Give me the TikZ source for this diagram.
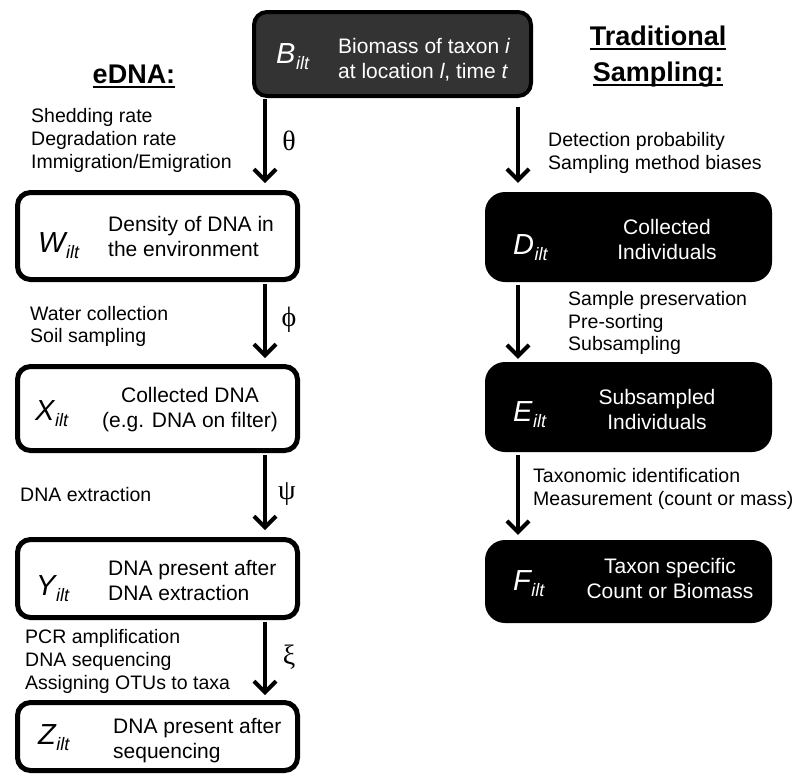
\documentclass[tikz,border=0pt]{standalone}
\usepackage{fontspec}
\setmainfont{Liberation Sans}
\newfontfamily\grkfont{Liberation Serif}
\usetikzlibrary{arrows.meta,calc}
\definecolor{bgray}{HTML}{333333}
\newcommand\vlab[2]{{\fontsize{29}{29}\selectfont\itshape #1}\kern0.5pt\raisebox{-6pt}{\fontsize{18}{18}\selectfont\itshape #2}}
\begin{document}
\begin{tikzpicture}[x=1pt,y=-1pt,
 ebox/.style={draw=black, line width=5pt, rounded corners=13pt, fill=white, minimum width=280pt, inner sep=0pt},
 tbox/.style={fill=black, rounded corners=20pt, minimum width=287pt, inner sep=0pt},
 bbox/.style={draw=black, line width=4pt, fill=bgray, rounded corners=13pt, minimum width=277pt, minimum height=84pt, inner sep=0pt},
 lbl/.style={anchor=west, align=left, inner sep=0pt, font=\fontsize{19.5}{22.7}\selectfont},
 btxt/.style={inner sep=0pt, font=\fontsize{21}{25}\selectfont},
 vnode/.style={inner sep=0pt, anchor=base west},
 grk/.style={inner sep=0pt, font=\grkfont\fontsize{28}{28}\selectfont},
 arr/.style={line width=4pt, -{Straight Barb[length=11pt,width=22pt]}},
 ttl/.style={inner sep=0pt, anchor=base, font=\fontsize{27}{27}\selectfont\bfseries},
 uline/.style={line width=2.5pt}
]
\useasboundingbox (0,0) rectangle (794,774);
\fill[white] (0,0) rectangle (794,774);

% titles
\node[ttl] (t1) at (134,83) {eDNA:};
\draw[uline] ([yshift=-4pt]t1.base west) -- ([yshift=-4pt]t1.base east);
\node[ttl] (t2) at (658,45) {Traditional};
\draw[uline] ([yshift=-4pt]t2.base west) -- ([yshift=-4pt]t2.base east);
\node[ttl] (t3) at (658,81) {Sampling:};
\draw[uline] ([yshift=-4pt]t3.base west) -- ([yshift=-4pt]t3.base east);

% top box
\node[bbox] (B) at (392.5,54) {};
\node[vnode, text=white] (Bv) at (276,63) {\vlab{B}{ilt}};
\node[btxt, anchor=west, align=left, text=white] (Bt) at (338,60) {Biomass of taxon \textit{i}\\at location \textit{l}, time \textit{t}};

% eDNA boxes
\node[ebox, minimum height=87pt] (W) at (157.5,236) {};
\node[vnode] (Wv) at (38,252.5) {\vlab{W}{ilt}};
\node[btxt, anchor=west, align=left] (Wt) at (108,236) {Density of DNA in\\the environment};

\node[ebox, minimum height=84pt] (X) at (157.5,408.5) {};
\node[vnode] (Xv) at (35,420.5) {\vlab{X}{ilt}};
\node[btxt, align=center] (Xt) at (190,409.5) {Collected DNA\\(e.g. DNA on filter)};

\node[ebox, minimum height=78pt] (Y) at (157.5,578.5) {};
\node[vnode] (Yv) at (36,595.5) {\vlab{Y}{ilt}};
\node[btxt, anchor=west, align=left] (Yt) at (108,580) {DNA present after\\DNA extraction};

\node[ebox, minimum height=68pt] (Z) at (157.5,736.5) {};
\node[vnode] (Zv) at (38,744) {\vlab{Z}{ilt}};
\node[btxt, anchor=west, align=left] (Zt) at (113,740.5) {DNA present after\\sequencing};

% traditional boxes
\node[tbox, minimum height=90pt] (D) at (628.5,237) {};
\node[vnode, text=white] (Dv) at (513,254) {\vlab{D}{ilt}};
\node[btxt, align=center, text=white] (Dt) at (667,239.5) {Collected\\Individuals};

\node[tbox, minimum height=90pt] (E) at (628.5,407) {};
\node[vnode, text=white] (Ev) at (513,421) {\vlab{E}{ilt}};
\node[btxt, align=center, text=white] (Et) at (657,409.5) {Subsampled\\Individuals};

\node[tbox, minimum height=83pt] (F) at (628.5,581.5) {};
\node[vnode, text=white] (Fv) at (513,590) {\vlab{F}{ilt}};
\node[btxt, align=center, text=white] (Ft) at (670,578.5) {Taxon specific\\Count or Biomass};

% arrows
\coordinate (lx) at (265,0);
\coordinate (rx) at (518,0);
\draw[arr, shorten <=1pt, shorten >=7pt] (B.south -| lx) -- (W.north -| lx);
\draw[arr, shorten <=2pt, shorten >=6pt] (W.south -| lx) -- (X.north -| lx);
\draw[arr, shorten <=2pt, shorten >=7pt] (X.south -| lx) -- (Y.north -| lx);
\draw[arr, shorten <=2pt, shorten >=5pt] (Y.south -| lx) -- (Z.north -| lx);
\draw[arr, shorten <=9pt, shorten >=9pt] (B.south -| rx) -- (D.north -| rx);
\draw[arr, shorten <=3pt, shorten >=3pt] (D.south -| rx) -- (E.north -| rx);
\draw[arr, shorten <=3pt, shorten >=5pt] (E.south -| rx) -- (F.north -| rx);

% greek
\node[grk] (g1) at (289,141) {θ};
\node[grk] (g2) at (289,320) {ϕ};
\node[grk] (g3) at (287,494) {ψ};
\node[grk] (g4) at (289,657) {ξ};

% labels left
\node[lbl] (l1) at (31,140.5) {Shedding rate\\Degradation rate\\Immigration/Emigration};
\node[lbl] (l2) at (30,326.5) {Water collection\\Soil sampling};
\node[lbl] (l3) at (20,495) {DNA extraction};
\node[lbl] (l4) at (25,661.5) {PCR amplification\\DNA sequencing\\Assigning OTUs to taxa};

% labels right
\node[lbl] (r1) at (548,153) {Detection probability\\Sampling method biases};
\node[lbl] (r2) at (568,323) {Sample preservation\\Pre-sorting\\Subsampling};
\node[lbl] (r3) at (533,489) {Taxonomic identification\\Measurement (count or mass)};
\end{tikzpicture}
\end{document}
